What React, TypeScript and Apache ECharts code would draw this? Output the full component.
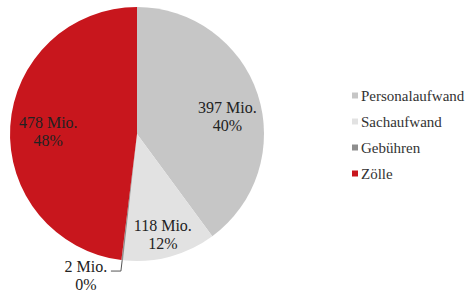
import React, { useEffect, useRef } from "react";
import * as echarts from "echarts";

const categories = ["Personalaufwand", "Sachaufwand", "Gebühren", "Zölle"];
const values = [397, 118, 2, 478];
const percents = ["40%", "12%", "0%", "48%"];
const colors = ["#c6c6c6", "#e2e2e2", "#8e8e8e", "#c8161d"];

// small nudges of the inside labels (style only)
const labelNudge = [
  [3, 11],
  [2, 12],
  [0, 0],
  [3, 3],
];

export default function App() {
  const ref = useRef<HTMLDivElement>(null);
  useEffect(() => {
    document.body.style.margin = "0";
    const chart = echarts.init(ref.current!, null, { renderer: "svg" });
    const font = "Liberation Serif";
    const center = [137, 134];
    const R = 127;
    chart.setOption({
      animation: false,
      backgroundColor: "#ffffff",
      legend: {
        orient: "vertical",
        left: 352,
        top: 88,
        padding: 0,
        itemWidth: 6,
        itemHeight: 6,
        itemGap: 11,
        icon: "rect",
        data: categories,
        textStyle: {
          fontFamily: font,
          fontSize: 15,
          color: "#333",
          padding: [0, 0, 0, -2],
          overflow: "none",
        },
      },
      series: [
        {
          type: "pie",
          center,
          radius: [0, R],
          startAngle: 90,
          clockwise: true,
          silent: true,
          label: { show: false },
          labelLine: { show: false },
          itemStyle: { borderWidth: 0 },
          data: categories.map((c, i) => ({
            name: c,
            value: values[i],
            itemStyle: { color: colors[i] },
          })),
        },
        {
          type: "pie",
          center,
          radius: [R * 0.4, R],
          startAngle: 90,
          clockwise: true,
          silent: true,
          legendHoverLink: false,
          itemStyle: { color: "rgba(0,0,0,0)", borderWidth: 0 },
          label: {
            show: true,
            position: "inside",
            fontFamily: font,
            fontSize: 16,
            color: "#222",
            lineHeight: 18,
            formatter: (p: any) => `${values[p.dataIndex]} Mio.\n${percents[p.dataIndex]}`,
          },
          labelLayout: (p: any) =>
            p.dataIndex === 2 ? {} : { dx: labelNudge[p.dataIndex][0], dy: labelNudge[p.dataIndex][1] },
          data: categories.map((c, i) => ({
            name: c,
            value: values[i],
            ...(i === 2
              ? {
                  label: {
                    position: "outside",
                    distanceToLabelLine: 4,
                    padding: [8, 0, 0, 0],
                    formatter: (p: any) => `{a|${values[p.dataIndex]} Mio.}\n{a|${percents[p.dataIndex]}}`,
                    rich: {
                      a: {
                        width: 42,
                        align: "center",
                        fontFamily: font,
                        fontSize: 16,
                        color: "#222",
                        lineHeight: 18,
                      },
                    },
                  },
                  labelLine: {
                    show: true,
                    length: 11,
                    length2: 10,
                    lineStyle: { color: "#555", width: 1 },
                  },
                }
              : {}),
          })),
        },
      ],
    });
    return () => chart.dispose();
  }, []);
  return <div ref={ref} style={{ width: 466, height: 295 }} />;
}
